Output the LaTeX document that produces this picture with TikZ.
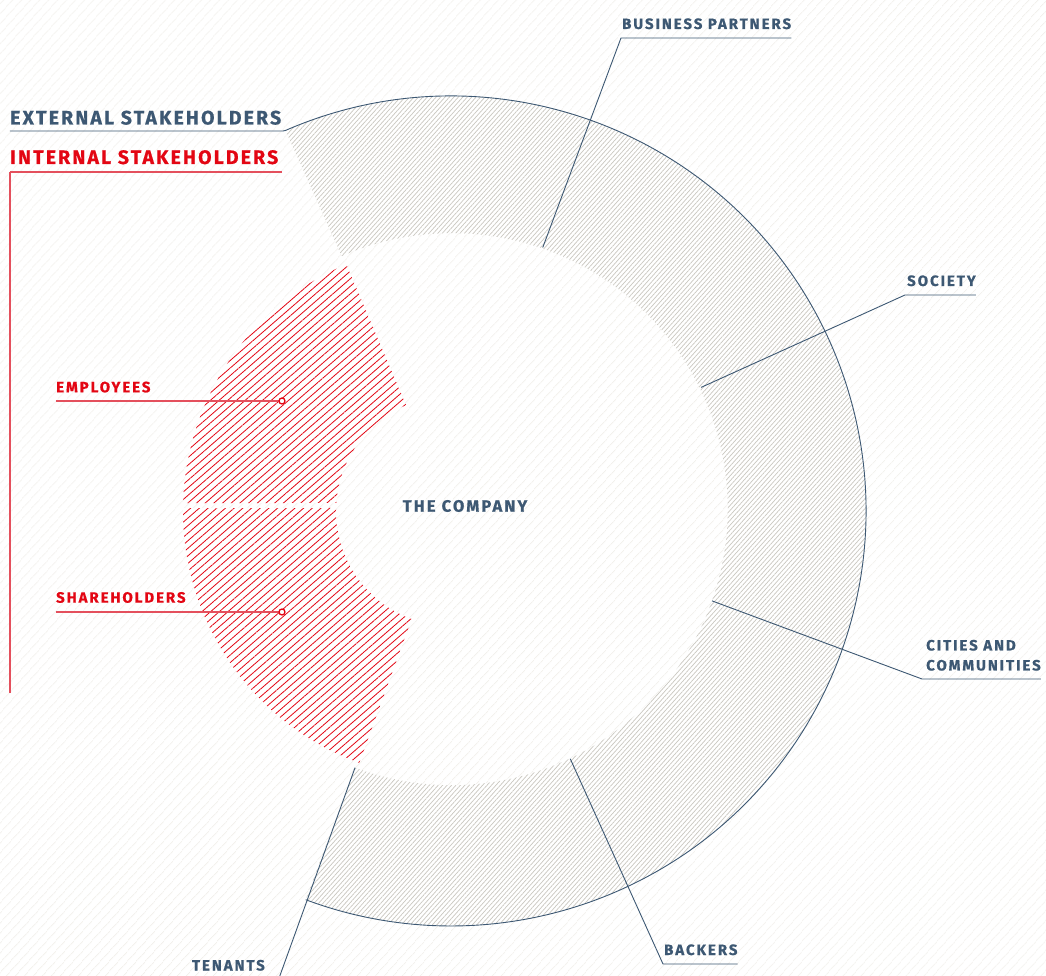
\documentclass[tikz,border=0pt]{standalone}
\usepackage{fontspec}
\setmainfont{Fira Sans}
\newfontfamily\lblfont[LetterSpace=13, FakeBold=0.5]{Fira Sans}
\newfontfamily\biglblfont[LetterSpace=11, FakeBold=0.5]{Fira Sans}
\usetikzlibrary{patterns.meta,positioning,calc}

\definecolor{stkblue}{HTML}{3D5873}
\definecolor{stkred}{HTML}{E30613}
\definecolor{stkredline}{HTML}{E4505D}
\definecolor{bghatch}{HTML}{ECE9E2}
\definecolor{ringhatch}{HTML}{CAC7C0}

\tikzstyle{lbl} = [inner sep=0pt, anchor=base west, text=stkblue, font=\lblfont\bfseries\fontsize{15}{20}\selectfont]
\tikzstyle{biglbl} = [lbl, font=\biglblfont\bfseries\fontsize{19.5}{24}\selectfont]
\tikzstyle{redlbl} = [lbl, text=stkred]
\tikzstyle{leader} = [stkblue, line width=0.9pt]
\tikzstyle{redleader} = [stkredline, line width=1.1pt]
\tikzstyle{dot} = [stkred, line width=1.3pt, fill=white]
\tikzstyle{bghatching} = [pattern={Lines[angle=48,distance=6.5pt,line width=0.6pt]}, pattern color=bghatch]
\tikzstyle{ringhatching} = [preaction={fill=white}, pattern={Lines[angle=48,distance=3.3pt,line width=0.7pt]}, pattern color=ringhatch]
\tikzstyle{redhatching} = [preaction={fill=white}, pattern={Lines[angle=41,distance=5.7pt,line width=0.8pt]}, pattern color=stkred]

\begin{document}
\begin{tikzpicture}[x=1pt, y=1pt]
	\useasboundingbox (-451,-465) rectangle (595,511);
	\fill[white] (-451,-465) rectangle (595,511);
	\fill[bghatching] (-451,-465) rectangle (595,511);

	% inner ends and knees of the leaders
	\coordinate (exin) at (113.5:277);
	\coordinate (bpin) at (70.8:279);
	\coordinate (scin) at (26.3:279);
	\coordinate (ctin) at (-19:276);
	\coordinate (bkin) at (-64.3:275);
	\coordinate (tnin) at (-110.5:274);
	\coordinate (exknee) at (-168,380);
	\coordinate (bpknee) at (170,473);
	\coordinate (scknee) at (454,216);
	\coordinate (ctknee) at (471,-168);
	\coordinate (bkknee) at (212,-453);
	\coordinate (tnknee) at (-173,-470);
	\coordinate (inknee) at (-169,339);
	\coordinate (inend) at (-441,-182);
	\coordinate (empdot) at (-169,110);
	\coordinate (shrdot) at (-169,-101);

	% external ring
	\path[ringhatching] (113.5:415) arc[start angle=113.5, end angle=-110.5, radius=415]
		-- (tnin) arc[start angle=-110.5, end angle=113.5, radius=276] -- cycle;

	% internal sectors
	\path[redhatching] (113:268) arc[start angle=113, end angle=178.3, radius=268]
		-- (176:115) arc[start angle=176, end angle=113, radius=115] -- cycle;
	\path[redhatching] (179.4:268) arc[start angle=179.4, end angle=250, radius=268]
		-- (250:115) arc[start angle=250, end angle=178.5, radius=115] -- cycle;

	% labels
	\node (extlbl) [biglbl] at (-441,386.5) {EXTERNAL STAKEHOLDERS};
	\node (intlbl) [biglbl, text=stkred] at (-441,347) {INTERNAL STAKEHOLDERS};
	\node (bplbl) [lbl] at ([xshift=1pt, yshift=9pt]bpknee) {BUSINESS PARTNERS};
	\node (soclbl) [lbl] at ([xshift=2pt, yshift=9pt]scknee) {SOCIETY};
	\node (citlbl) [lbl] at ([xshift=4pt, yshift=28.5pt]ctknee) {CITIES AND};
	\node (comlbl) [lbl] at ([xshift=4pt, yshift=8.5pt]ctknee) {COMMUNITIES};
	\node (bcklbl) [lbl] at ([xshift=1pt, yshift=9pt]bkknee) {BACKERS};
	\node (tenlbl) [lbl, anchor=base east] at ([xshift=-13pt, yshift=10.5pt]tnknee) {TENANTS};
	\node (emplbl) [redlbl] at (-395,118.7) {EMPLOYEES};
	\node (shrlbl) [redlbl] at (-395,-91.7) {SHAREHOLDERS};
	\node (company) [lbl, anchor=center, font=\lblfont\bfseries\fontsize{16.5}{20}\selectfont] at (14,5) {THE COMPANY};

	% leaders
	\draw[leader] (extlbl.west |- exknee) -- (exknee) -- (113.5:415)
		arc[start angle=113.5, end angle=-110.5, radius=415];
	\draw[leader] (bpin) -- (bpknee) -- (bpknee -| bplbl.east);
	\draw[leader] (scin) -- (scknee) -- (scknee -| soclbl.east);
	\draw[leader] (ctin) -- (ctknee) -- (ctknee -| comlbl.east);
	\draw[leader] (bkin) -- (bkknee) -- (bkknee -| bcklbl.east);
	\draw[leader] (tnin) -- (tnknee) -- (tnknee -| tenlbl.west);
	\draw[redleader] (intlbl.west |- inknee) -- (inknee);
	\draw[redleader] (intlbl.west |- inknee) -- (inend);
	\draw[redleader] (emplbl.west |- empdot) -- (empdot);
	\draw[redleader] (shrlbl.west |- shrdot) -- (shrdot);
	\draw[dot] (empdot) circle (3pt);
	\draw[dot] (shrdot) circle (3pt);
\end{tikzpicture}
\end{document}
